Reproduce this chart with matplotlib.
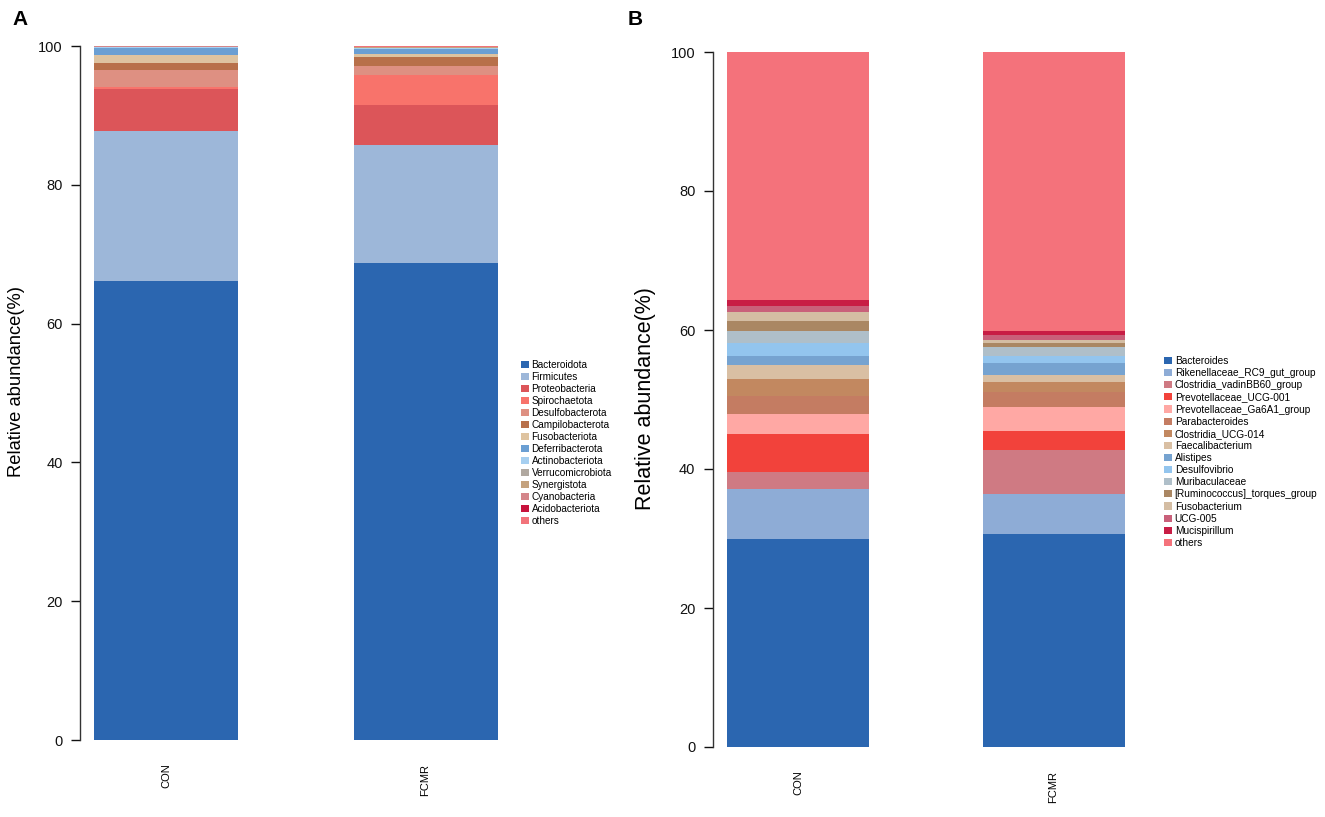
import numpy as np
import matplotlib
matplotlib.use("Agg")
import matplotlib.pyplot as plt

plt.rcParams['font.family'] = ['Liberation Sans', 'DejaVu Sans']

# groups
groups = ["CON", "FCMR"]

# panel A: phylum level
phyla = ["Bacteroidota", "Firmicutes", "Proteobacteria", "Spirochaetota",
         "Desulfobacterota", "Campilobacterota", "Fusobacteriota",
         "Deferribacterota", "Actinobacteriota", "Verrucomicrobiota",
         "Synergistota", "Cyanobacteria", "Acidobacteriota", "others"]
phyla_con = [66.1, 21.6, 6.1, 0.3, 2.4, 1.0, 1.2, 1.0, 0.1, 0.05, 0.05, 0.05, 0.02, 0.03]
phyla_fcmr = [68.7, 17.1, 5.65, 4.35, 1.35, 1.2, 0.5, 0.7, 0.15, 0.05, 0.05, 0.05, 0.05, 0.1]
phyla_colors = ["#2b66b0", "#9db7d9", "#dc5559", "#f8736b", "#de9082", "#b8704a",
                "#dec3a0", "#6b9fd3", "#a6cff0", "#b0a8a0", "#c4a27e", "#d4868a",
                "#c8133d", "#f2737a"]

# panel B: genus level
genera = ["Bacteroides", "Rikenellaceae_RC9_gut_group", "Clostridia_vadinBB60_group",
          "Prevotellaceae_UCG-001", "Prevotellaceae_Ga6A1_group", "Parabacteroides",
          "Clostridia_UCG-014", "Faecalibacterium", "Alistipes", "Desulfovibrio",
          "Muribaculaceae", "[Ruminococcus]_torques_group", "Fusobacterium",
          "UCG-005", "Mucispirillum", "others"]
genera_con = [29.9, 7.2, 2.5, 5.4, 2.9, 2.6, 2.4, 2.0, 1.3, 1.9, 1.8, 1.35, 1.35, 0.8, 0.9, 35.7]
genera_fcmr = [30.7, 5.7, 6.3, 2.7, 3.45, 2.25, 1.45, 0.95, 1.7, 1.1, 1.2, 0.65, 0.4, 0.7, 0.65, 40.1]
genera_colors = ["#2b66b0", "#8eacd6", "#cf7a83", "#f2423b", "#ffa8a4", "#c47c62",
                 "#c28860", "#d9bfa3", "#76a3d0", "#93c5ee", "#afbfc9", "#aa8763",
                 "#d4bda3", "#c9607a", "#c81d45", "#f4727b"]


def stacked(ax, names, con, fcmr, colors, label_size, label_xy):
    vals = np.array([con, fcmr]).T
    x = [0.5, 2.3]
    bottom = np.zeros(2)
    for name, v, c in zip(names, vals, colors):
        ax.bar(x, v, width=1.0, bottom=bottom, color=c, linewidth=0, label=name)
        bottom += v
    ax.set_xlim(-0.1, 2.9)
    ax.set_ylim(0, 100)
    ax.set_yticks([0, 20, 40, 60, 80, 100])
    ax.set_xticks(x)
    ax.set_xticklabels(groups, rotation=90, fontsize=8, va='top')
    ax.tick_params(axis='x', length=0, pad=17)
    ax.tick_params(axis='y', length=6.5, width=1, pad=6, labelsize=10.5, colors='#111111')
    for s in ['top', 'right', 'bottom']:
        ax.spines[s].set_visible(False)
    ax.spines['left'].set_color('#333333')
    ax.spines['left'].set_linewidth(1)
    ax.set_ylabel("Relative abundance(%)", fontsize=label_size)
    ax.yaxis.set_label_coords(*label_xy)


W, H = 1325, 817
fig = plt.figure(figsize=(13.25, 8.17), dpi=100)

axA = fig.add_axes([80 / W, 77 / H, 432 / W, 694 / H])
stacked(axA, phyla, phyla_con, phyla_fcmr, phyla_colors, 13.2, (-0.127, 0.516))
axB = fig.add_axes([712.7 / W, 70 / H, 426 / W, 695 / H])
stacked(axB, genera, genera_con, genera_fcmr, genera_colors, 15.5, (-0.133, 0.502))

leg_kw = dict(loc='upper left', frameon=False, borderpad=0,
              borderaxespad=0, handlelength=0.8, handleheight=0.7,
              handletextpad=0.25)
fig.legend(*axA.get_legend_handles_labels(), bbox_to_anchor=(521 / W, 1 - 360 / H),
           fontsize=7.2, labelspacing=0.2, **leg_kw)
fig.legend(*axB.get_legend_handles_labels(), bbox_to_anchor=(1164 / W, 1 - 356 / H),
           fontsize=7.3, labelspacing=0.21, **leg_kw)

fig.text(12 / W, 1 - 25 / H, "A", fontsize=15, fontweight='bold')
fig.text(628 / W, 1 - 25 / H, "B", fontsize=15, fontweight='bold')

fig.savefig("out.png", dpi=100)
